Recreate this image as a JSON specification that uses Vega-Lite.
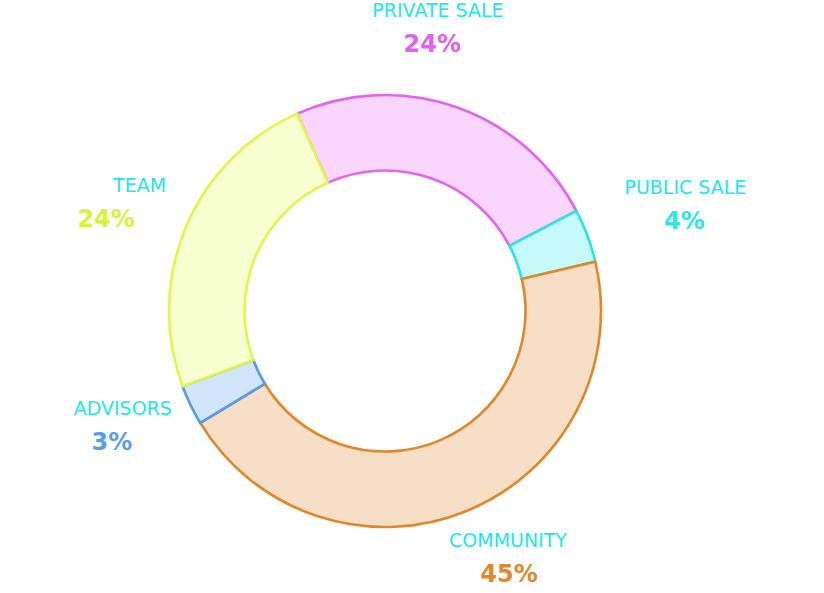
{
  "$schema": "https://vega.github.io/schema/vega-lite/v6.json",
  "width": 770,
  "height": 564,
  "autosize": {"type": "none"},
  "padding": {"left": 0, "top": 29, "right": 54, "bottom": 0},
  "background": "white",
  "config": {"view": {"stroke": null}},
  "data": {
    "values": [
      {"category": "PRIVATE SALE", "share": 0.24, "rank": 1},
      {"category": "PUBLIC SALE", "share": 0.04, "rank": 2},
      {"category": "COMMUNITY", "share": 0.45, "rank": 3},
      {"category": "ADVISORS", "share": 0.03, "rank": 4},
      {"category": "TEAM", "share": 0.24, "rank": 5}
    ]
  },
  "encoding": {
    "theta": {"field": "share", "type": "quantitative", "stack": true, "scale": {"range": [-0.4189, 5.8643]}},
    "order": {"field": "rank", "type": "quantitative", "sort": "ascending"}
  },
  "layer": [
    {
      "mark": {"type": "arc", "outerRadius": 216, "innerRadius": 140.5, "strokeWidth": 2.6},
      "encoding": {
        "fill": {"field": "category", "type": "nominal", "legend": null,
          "scale": {"domain": ["PRIVATE SALE", "PUBLIC SALE", "COMMUNITY", "ADVISORS", "TEAM"],
                    "range": ["#f9d6fe", "#c6f9f9", "#f6dfc6", "#d2e5fa", "#f7fecf"]}},
        "stroke": {"field": "category", "type": "nominal", "legend": null,
          "scale": {"domain": ["PRIVATE SALE", "PUBLIC SALE", "COMMUNITY", "ADVISORS", "TEAM"],
                    "range": ["#e464f2", "#26e5e8", "#e0872a", "#559be8", "#e0f74a"]}}
      }
    },
    {
      "mark": {"type": "text", "font": "DejaVu Sans", "fontSize": 19, "baseline": "middle", "dy": -20, "color": "#1fe6ea",
        "radius": {"expr": "(datum.share_start + datum.share_end) / 2 < 0.3 ? 296 : 270"},
        "align": {"expr": "(datum.share_start + datum.share_end) / 2 < 0.6 ? 'left' : 'right'"},
        "dx": {"expr": "(datum.share_start + datum.share_end) / 2 < 0.2 ? -110 : ((datum.share_start + datum.share_end) / 2 < 0.6 ? -38 : 30)"}},
      "encoding": {
        "text": {"field": "category", "type": "nominal"}
      }
    },
    {
      "mark": {"type": "text", "font": "DejaVu Sans", "fontSize": 24, "fontWeight": "bold", "baseline": "middle", "dy": 14, "align": "center",
        "radius": {"expr": "(datum.share_start + datum.share_end) / 2 < 0.3 ? 296 : 270"},
        "dx": {"expr": "(datum.share_start + datum.share_end) / 2 < 0.2 ? -50 : ((datum.share_start + datum.share_end) / 2 < 0.6 ? 22 : -30)"}},
      "encoding": {
        "text": {"field": "share", "type": "quantitative", "format": ".0%"},
        "color": {"field": "category", "type": "nominal", "legend": null,
          "scale": {"domain": ["PRIVATE SALE", "PUBLIC SALE", "COMMUNITY", "ADVISORS", "TEAM"],
                    "range": ["#e260f0", "#2ee6e6", "#e0892a", "#5a9de8", "#d8f040"]}}
      }
    }
  ]
}
